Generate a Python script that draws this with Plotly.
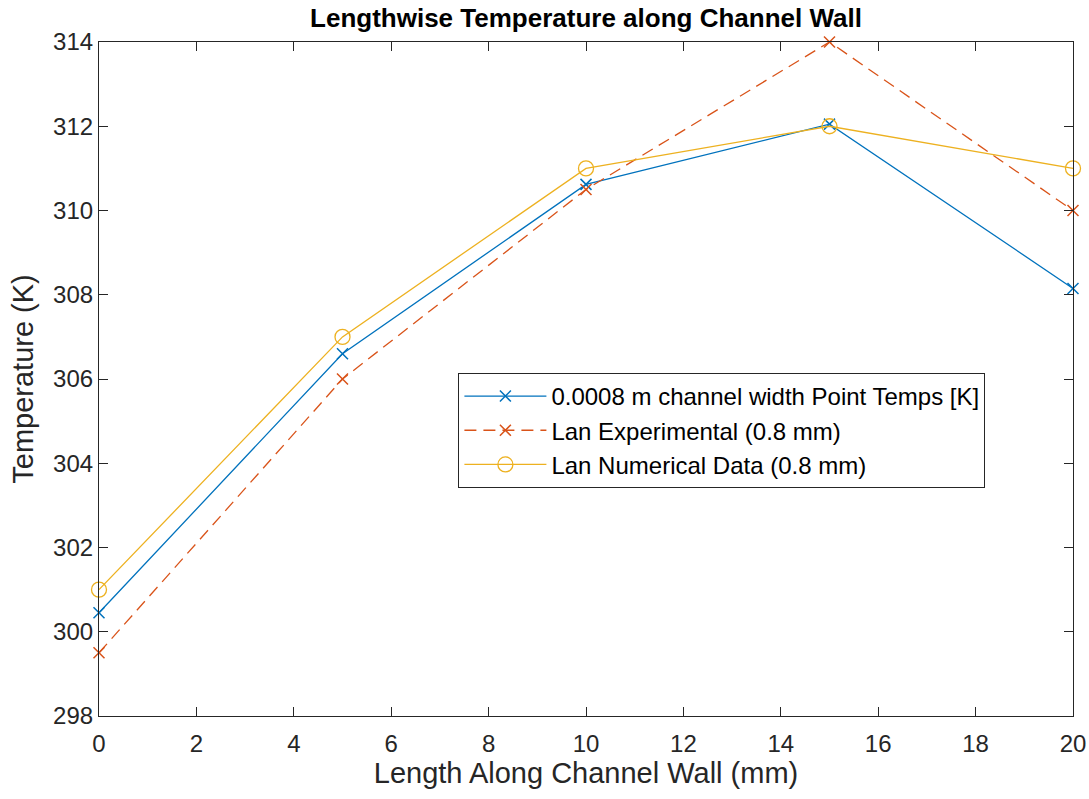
import plotly.graph_objects as go

x_mm = [0, 5, 10, 15, 20]
sim_temps = [300.45, 306.6, 310.62, 312.05, 308.15]
lan_exp = [299.5, 306.0, 310.5, 314.0, 310.0]
lan_num = [301.0, 307.0, 311.0, 312.0, 311.0]

names = ["0.0008 m channel width Point Temps [K]",
         "Lan Experimental (0.8 mm)",
         "Lan Numerical Data (0.8 mm)"]

FONT = "Liberation Sans, Arial"

fig = go.Figure()
fig.add_trace(go.Scatter(x=x_mm, y=sim_temps, name=names[0], mode="lines+markers",
                         cliponaxis=False,
                         line=dict(color="#0072BD", width=1.3),
                         marker=dict(symbol="x-thin-open", size=11,
                                     line=dict(color="#0072BD", width=1.5))))
fig.add_trace(go.Scatter(x=x_mm, y=lan_exp, name=names[1], mode="lines+markers",
                         cliponaxis=False,
                         line=dict(color="#D95319", width=1.3, dash="12px,7px"),
                         marker=dict(symbol="x-thin-open", size=11,
                                     line=dict(color="#D95319", width=1.5))))
fig.add_trace(go.Scatter(x=x_mm, y=lan_num, name=names[2], mode="lines+markers",
                         cliponaxis=False,
                         line=dict(color="#EDB120", width=1.3),
                         marker=dict(symbol="circle-open", size=15,
                                     line=dict(color="#EDB120", width=1.3))))

axis_common = dict(showline=True, linecolor="#262626", linewidth=1.2, mirror="ticks",
                   ticks="inside", ticklen=9, tickcolor="#262626", tickwidth=1,
                   showgrid=False, zeroline=False, automargin=False,
                   tickfont=dict(family=FONT, size=24, color="#262626"))

fig.update_layout(
    width=1089, height=799,
    margin=dict(l=99, r=16, t=42, b=83),
    paper_bgcolor="white", plot_bgcolor="white",
    title=dict(text="<b>Lengthwise Temperature along Channel Wall</b>",
               x=0.5, xref="paper", y=0.977, yanchor="middle",
               font=dict(family=FONT, size=26, color="#000000")),
    xaxis=dict(range=[0, 20], dtick=2, tick0=0, ticklabelstandoff=6,
               title=dict(text="Length Along Channel Wall (mm)", standoff=2,
                          font=dict(family=FONT, size=29, color="#262626")),
               **axis_common),
    yaxis=dict(range=[298, 314], dtick=2, tick0=298,
               title=dict(text="Temperature (K)", standoff=10,
                          font=dict(family=FONT, size=29, color="#262626")),
               **axis_common),
    legend=dict(x=0.369, y=0.509, xanchor="left", yanchor="top",
                bgcolor="white", bordercolor="#262626", borderwidth=1,
                font=dict(family=FONT, size=24, color="#000000"),
                itemwidth=82, tracegroupgap=0),
    showlegend=True,
)

fig.write_html("out.html")
